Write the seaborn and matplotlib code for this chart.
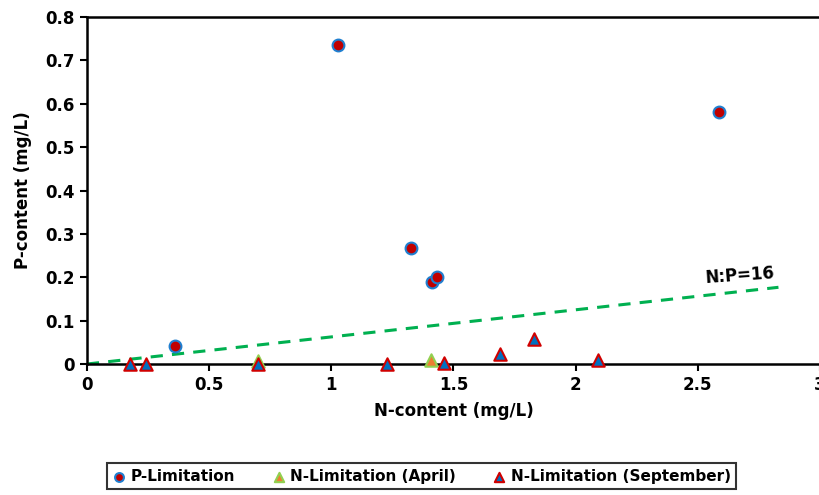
import numpy as np
import pandas as pd
import matplotlib
matplotlib.use("Agg")
import matplotlib.pyplot as plt
import seaborn as sns

sns.set_style("white")
plt.rcParams['font.family'] = ['DejaVu Sans']
plt.rcParams['text.color'] = 'black'
plt.rcParams['axes.labelcolor'] = 'black'

# P-Limitation points
p_lim_n = [0.36, 1.027, 1.326, 1.412, 1.432, 2.586]
p_lim_p = [0.041, 0.735, 0.267, 0.189, 0.200, 0.581]

# N-Limitation (April)
n_apr_n = [0.70, 1.41]
n_apr_p = [0.006, 0.010]

# N-Limitation (September)
n_sep_n = [0.176, 0.24, 0.70, 1.23, 1.46, 1.69, 1.83, 2.09]
n_sep_p = [0.0, 0.0, 0.0, 0.0, 0.003, 0.023, 0.058, 0.009]

# N:P = 16 line
ratio_n = [0.0, 2.83]
ratio_p = [n / 16 for n in ratio_n]

fig = plt.figure(figsize=(8.2, 4.95), dpi=100)
ax = fig.add_axes([0.106, 0.2646, 0.894, 0.7011])

line_df = pd.DataFrame({'N': ratio_n, 'P': ratio_p})
sns.lineplot(data=line_df, x='N', y='P', color='#00B050', lw=2.2,
             linestyle=(0, (4, 3)), ax=ax, legend=False)

sns.scatterplot(x=p_lim_n, y=p_lim_p, marker='o', s=72, color='#C00000',
                edgecolor='#1F7FD0', linewidth=1.5, label='P-Limitation', ax=ax,
                zorder=3, clip_on=False)
sns.scatterplot(x=n_apr_n, y=n_apr_p, marker='^', s=80, color='#ED7D31',
                edgecolor='#92D050', linewidth=1.5, label='N-Limitation (April)', ax=ax,
                zorder=3, clip_on=False)
sns.scatterplot(x=n_sep_n, y=n_sep_p, marker='^', s=80, color='#0070C0',
                edgecolor='#D00000', linewidth=1.5, label='N-Limitation (September)', ax=ax,
                zorder=4, clip_on=False)

ax.set_xlim(0, 3)
ax.set_ylim(0, 0.8)
ax.set_xticks([0, 0.5, 1, 1.5, 2, 2.5, 3])
ax.set_xticklabels(['0', '0.5', '1', '1.5', '2', '2.5', '3'])
ax.set_yticks(np.arange(0, 0.81, 0.1))
ax.set_yticklabels(['0', '0.1', '0.2', '0.3', '0.4', '0.5', '0.6', '0.7', '0.8'])
ax.tick_params(axis='both', which='both', direction='out', length=5, width=1.5,
               labelsize=12, colors='black', bottom=True, left=True)
for lab in ax.get_xticklabels() + ax.get_yticklabels():
    lab.set_fontweight('bold')

for side in ['left', 'bottom', 'top']:
    ax.spines[side].set_color('black')
    ax.spines[side].set_linewidth(1.8)
ax.spines['right'].set_visible(False)

ax.set_xlabel('N-content (mg/L)', fontsize=12, fontweight='bold', labelpad=6)
ax.set_ylabel('P-content (mg/L)', fontsize=12, fontweight='bold', labelpad=10)

ax.text(2.67, 0.205, 'N:P=16', fontsize=12, fontweight='bold', rotation=4,
        ha='center', va='center')

if ax.legend_:
    ax.legend_.remove()
handles, labels = ax.get_legend_handles_labels()
leg = fig.legend(handles, labels, loc='center', bbox_to_anchor=(0.514, 0.038), ncol=3,
                 frameon=True, fancybox=False, edgecolor='black', fontsize=11,
                 handlelength=0.9, handletextpad=0.3, columnspacing=2.4,
                 borderpad=0.35, markerscale=0.75)
leg.get_frame().set_linewidth(1.5)
for t in leg.get_texts():
    t.set_fontweight('bold')

fig.savefig('out.png', dpi=100)
